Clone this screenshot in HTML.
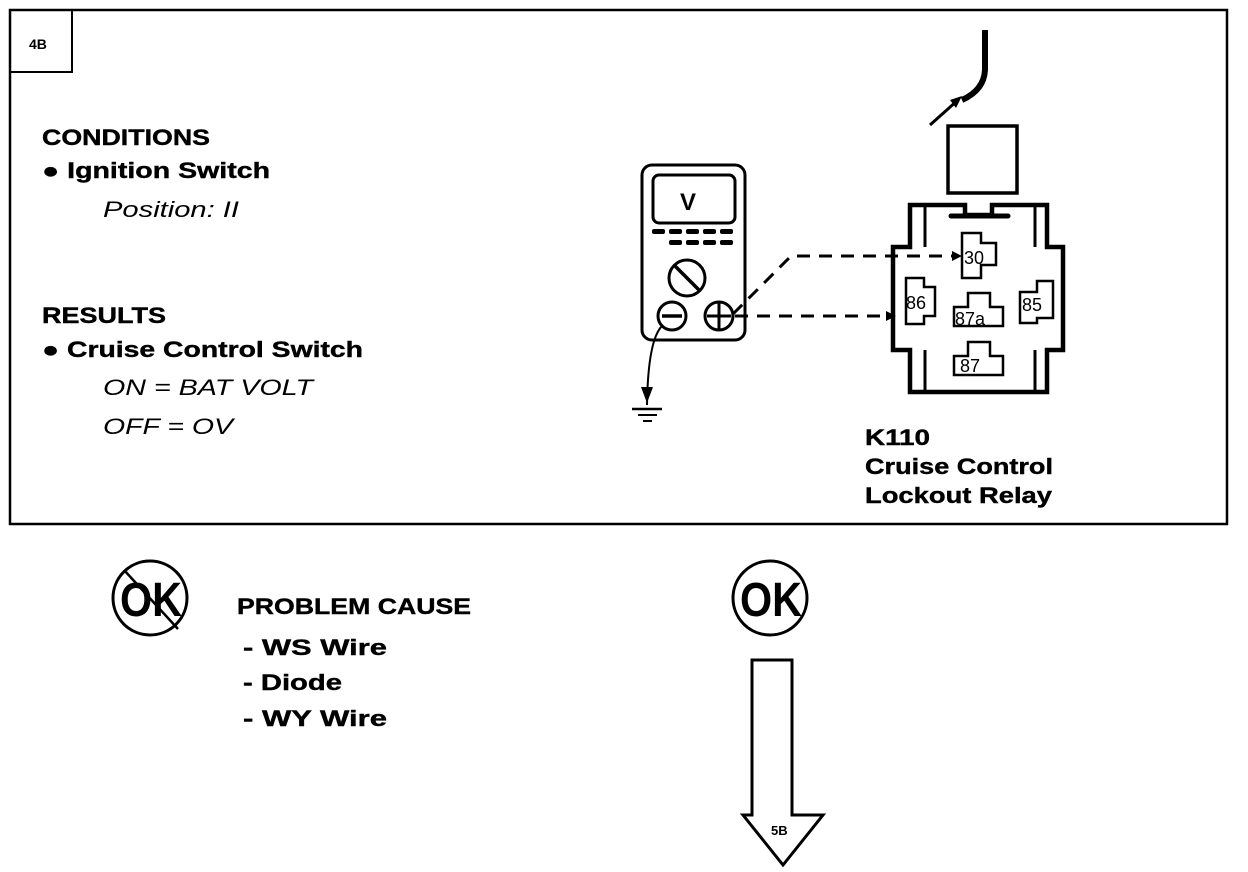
<!DOCTYPE html>
<html><head><meta charset="utf-8"><style>
html,body{margin:0;padding:0;background:#fff;}
svg{display:block;}
text{font-family:"Liberation Sans",Arial,sans-serif;fill:#000;}
.b{font-weight:bold;font-size:22px;stroke:#000;stroke-width:0.4px;}
.i{font-style:italic;font-size:22px;}
</style></head><body>
<svg width="1248" height="872" viewBox="0 0 1248 872" xmlns="http://www.w3.org/2000/svg">
<rect x="10" y="10" width="1217" height="514" fill="none" stroke="#000" stroke-width="2.5"/>
<path d="M10 72 H72 V10" fill="none" stroke="#000" stroke-width="2"/>
<text x="29" y="49" font-weight="bold" font-size="14">4B</text>

<text class="b" x="42" y="145" textLength="168" lengthAdjust="spacingAndGlyphs">CONDITIONS</text>
<text class="b" x="42" y="178" textLength="228" lengthAdjust="spacingAndGlyphs">● Ignition Switch</text>
<text class="i" x="103" y="217" textLength="136" lengthAdjust="spacingAndGlyphs">Position: II</text>
<text class="b" x="42" y="323" textLength="124" lengthAdjust="spacingAndGlyphs">RESULTS</text>
<text class="b" x="42" y="357" textLength="321" lengthAdjust="spacingAndGlyphs">● Cruise Control Switch</text>
<text class="i" x="103" y="395" textLength="210" lengthAdjust="spacingAndGlyphs">ON = BAT VOLT</text>
<text class="i" x="103" y="434" textLength="130" lengthAdjust="spacingAndGlyphs">OFF = OV</text>

<!-- multimeter -->
<rect x="642" y="165" width="103" height="175" rx="10" fill="none" stroke="#000" stroke-width="3"/>
<rect x="653" y="175" width="82" height="48" rx="6" fill="none" stroke="#000" stroke-width="3"/>
<text x="680" y="210" font-weight="bold" font-size="24">V</text>
<g fill="#000">
<rect x="652" y="229" width="13" height="5" rx="2"/><rect x="669" y="229" width="13" height="5" rx="2"/><rect x="686" y="229" width="13" height="5" rx="2"/><rect x="703" y="229" width="13" height="5" rx="2"/><rect x="720" y="229" width="13" height="5" rx="2"/>
<rect x="669" y="240" width="13" height="5" rx="2"/><rect x="686" y="240" width="13" height="5" rx="2"/><rect x="703" y="240" width="13" height="5" rx="2"/><rect x="720" y="240" width="13" height="5" rx="2"/>
</g>
<circle cx="687" cy="278" r="18" fill="none" stroke="#000" stroke-width="3"/>
<line x1="674" y1="265" x2="700" y2="291" stroke="#000" stroke-width="3.5"/>
<circle cx="672" cy="316" r="14" fill="none" stroke="#000" stroke-width="3"/>
<line x1="662" y1="316" x2="682" y2="316" stroke="#000" stroke-width="3.5"/>
<circle cx="719" cy="316" r="14" fill="none" stroke="#000" stroke-width="3"/>
<line x1="707" y1="316" x2="731" y2="316" stroke="#000" stroke-width="3"/>
<line x1="719" y1="303" x2="719" y2="329" stroke="#000" stroke-width="3"/>
<path d="M662 326 Q648 340 647 405" fill="none" stroke="#000" stroke-width="2"/>
<path d="M641 387 L647 403 L653 387 Z" fill="#000"/>
<line x1="632" y1="409" x2="662" y2="409" stroke="#000" stroke-width="2.5"/>
<line x1="638" y1="415" x2="657" y2="415" stroke="#000" stroke-width="2"/>
<line x1="643" y1="421" x2="652" y2="421" stroke="#000" stroke-width="2"/>

<!-- dashed leads -->
<path d="M733 314 L791 256 L958 256" fill="none" stroke="#000" stroke-width="3" stroke-dasharray="13 9"/>
<path d="M952 251 L962 256 L952 261 Z" fill="#000"/>
<path d="M735 316 L890 316" fill="none" stroke="#000" stroke-width="3" stroke-dasharray="13 9"/>
<path d="M886 311 L896 316 L886 321 Z" fill="#000"/>

<!-- wire & connector square -->
<path d="M985 30 L985 70 Q984 90 962 100" fill="none" stroke="#000" stroke-width="6"/>
<path d="M930 125 L958 100" stroke="#000" stroke-width="3"/>
<path d="M950 100 L962 96 L956 108 Z" fill="#000"/>
<rect x="948" y="126" width="69" height="67" fill="none" stroke="#000" stroke-width="3.5"/>

<!-- relay -->
<path d="M910 205 H965 V215 H992 V205 H1047 V247 H1063 V350 H1047 V392 H910 V350 H893 V247 H910 Z" fill="none" stroke="#000" stroke-width="4.5"/>
<path d="M925 207 V247 M1035 207 V247 M925 350 V390 M1035 350 V390" stroke="#000" stroke-width="3"/>
<line x1="951" y1="216" x2="1008" y2="216" stroke="#000" stroke-width="5" stroke-linecap="round"/>
<g fill="none" stroke="#000" stroke-width="2.5">
<path d="M962 233 H981 V243 H996 V265 H981 V278 H962 Z"/>
<path d="M906 278 H924 V287 H935 V316 H924 V324 H906 Z"/>
<path d="M968 293 H990 V307 H1003 V326 H954 V307 H968 Z"/>
<path d="M1037 281 H1053 V318 H1037 V323 H1020 V292 H1037 Z"/>
<path d="M968 342 H990 V356 H1003 V375 H954 V356 H968 Z"/>
</g>
<g font-size="18">
<text x="964" y="264">30</text>
<text x="906" y="309">86</text>
<text x="955" y="325">87a</text>
<text x="1022" y="311">85</text>
<text x="960" y="372">87</text>
</g>
<text class="b" x="865" y="445" textLength="65" lengthAdjust="spacingAndGlyphs">K110</text>
<text class="b" x="865" y="474" textLength="188" lengthAdjust="spacingAndGlyphs">Cruise Control</text>
<text class="b" x="865" y="503" textLength="187" lengthAdjust="spacingAndGlyphs">Lockout Relay</text>

<!-- bottom -->
<circle cx="150" cy="598" r="37" fill="none" stroke="#000" stroke-width="3"/>
<text x="120" y="616" font-weight="bold" font-size="48" textLength="62" lengthAdjust="spacingAndGlyphs">OK</text>
<line x1="124" y1="570" x2="178" y2="629" stroke="#000" stroke-width="2.5"/>
<text class="b" x="237" y="614" textLength="234" lengthAdjust="spacingAndGlyphs">PROBLEM CAUSE</text>
<text class="b" x="243" y="655" textLength="144" lengthAdjust="spacingAndGlyphs">- WS  Wire</text>
<text class="b" x="243" y="690" textLength="99" lengthAdjust="spacingAndGlyphs">- Diode</text>
<text class="b" x="243" y="726" textLength="144" lengthAdjust="spacingAndGlyphs">- WY  Wire</text>

<circle cx="770" cy="598" r="37" fill="none" stroke="#000" stroke-width="3"/>
<text x="740" y="616" font-weight="bold" font-size="48" textLength="62" lengthAdjust="spacingAndGlyphs">OK</text>
<path d="M752 660 H792 V815 H823 L783 865 L743 815 H752 Z" fill="none" stroke="#000" stroke-width="3"/>
<text x="771" y="835" font-weight="bold" font-size="13">5B</text>
</svg>
</body></html>
